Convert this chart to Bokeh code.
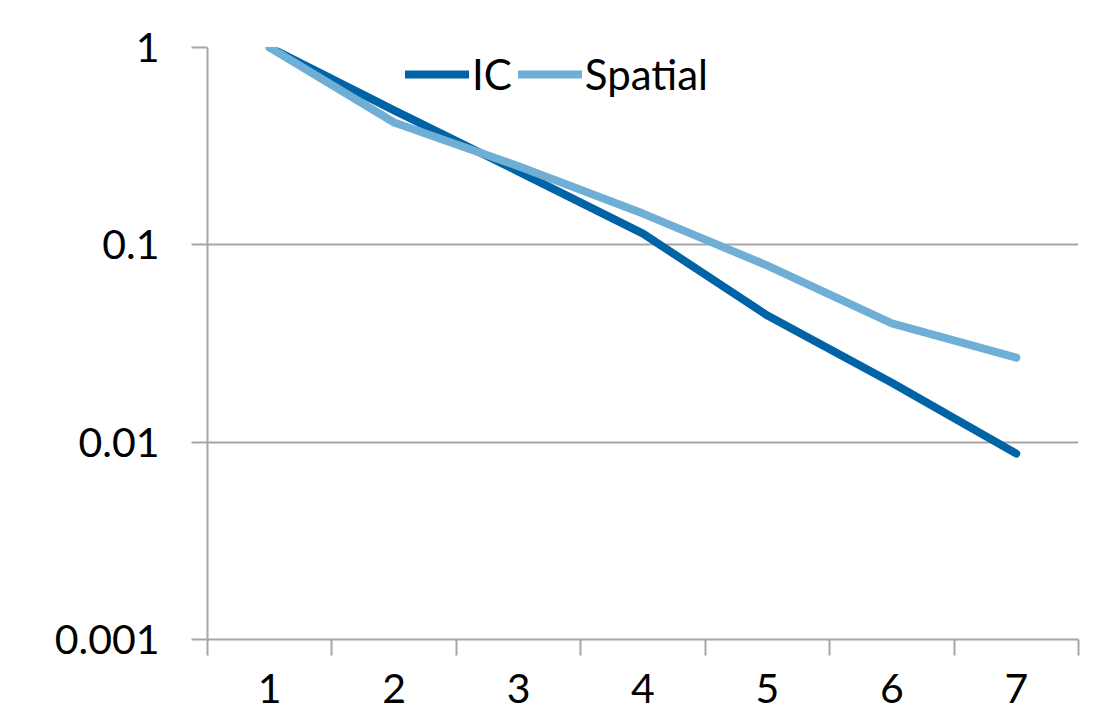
from bokeh.plotting import figure
from bokeh.models import (Range1d, LinearAxis, FixedTicker, CustomJSTickFormatter,
                          Legend, LegendItem)
from bokeh.embed import file_html
from bokeh.resources import INLINE

categories = ["1", "2", "3", "4", "5", "6", "7"]
ic = [1.0, 0.48, 0.235, 0.114, 0.0438, 0.020, 0.00875]
spatial = [1.0, 0.417, 0.25, 0.144, 0.0785, 0.040, 0.0268]
y_ticks = [0.001, 0.01, 0.1, 1]

xs = list(range(1, len(categories) + 1))
FONT = "Lato"
GRAY = "#A6A6A6"

p = figure(width=1105, height=718, output_backend="svg", toolbar_location=None,
           x_range=Range1d(0.5, len(categories) + 0.5), y_range=Range1d(0.001, 1),
           y_axis_type="log", x_axis_type=None,
           min_border_left=207, min_border_right=27, min_border_top=47, min_border_bottom=79)
p.outline_line_color = None
p.background_fill_color = "white"
p.border_fill_color = "white"

# y axis
ya = p.yaxis[0]
ya.ticker = FixedTicker(ticks=y_ticks, minor_ticks=[])
ya.formatter = CustomJSTickFormatter(code="return tick.toString();")
ya.axis_line_color = GRAY
ya.axis_line_width = 2
ya.major_tick_line_color = GRAY
ya.major_tick_line_width = 2
ya.major_tick_out = 16
ya.major_tick_in = 0
ya.minor_tick_line_color = None
ya.major_label_text_font = FONT
ya.major_label_text_font_size = "41px"
ya.major_label_text_color = "black"
ya.major_label_standoff = 32

p.ygrid.grid_line_color = GRAY
p.ygrid.grid_line_width = 2
p.ygrid.ticker = FixedTicker(ticks=y_ticks, minor_ticks=[])
p.xgrid.grid_line_color = None

# x axis with ticks at category boundaries
bounds = [i + 0.5 for i in range(len(categories) + 1)]
xa1 = LinearAxis(ticker=FixedTicker(ticks=bounds, minor_ticks=[]),
                 major_label_overrides={b: "" for b in bounds},
                 major_label_text_font_size="0px",
                 axis_line_color=GRAY, axis_line_width=2,
                 major_tick_line_color=GRAY, major_tick_line_width=2,
                 major_tick_out=16, major_tick_in=0, minor_tick_line_color=None,
                 major_label_standoff=0)
p.add_layout(xa1, "below")
xa2 = LinearAxis(ticker=FixedTicker(ticks=xs, minor_ticks=[]),
                 major_label_overrides={x: c for x, c in zip(xs, categories)},
                 axis_line_color=None, major_tick_line_color=None, minor_tick_line_color=None,
                 major_label_text_font=FONT, major_label_text_font_size="41px",
                 major_label_text_color="black", major_label_standoff=12)
p.add_layout(xa2, "below")

r_ic = p.line(xs, ic, line_color="#0063A6", line_width=8, line_cap="round", line_join="round")
r_sp = p.line(xs, spatial, line_color="#6FAED5", line_width=8, line_cap="round", line_join="round")

legend = Legend(items=[LegendItem(label="IC", renderers=[r_ic]),
                       LegendItem(label="Spatial", renderers=[r_sp])],
                orientation="horizontal", location=(198, 540),
                label_text_font=FONT, label_text_font_size="42px", label_text_color="black",
                glyph_width=64, glyph_height=40, label_standoff=3, spacing=6,
                padding=0, margin=0, border_line_color=None, background_fill_alpha=0)
p.add_layout(legend, "center")

open("out.html", "w").write(file_html(p, INLINE))
